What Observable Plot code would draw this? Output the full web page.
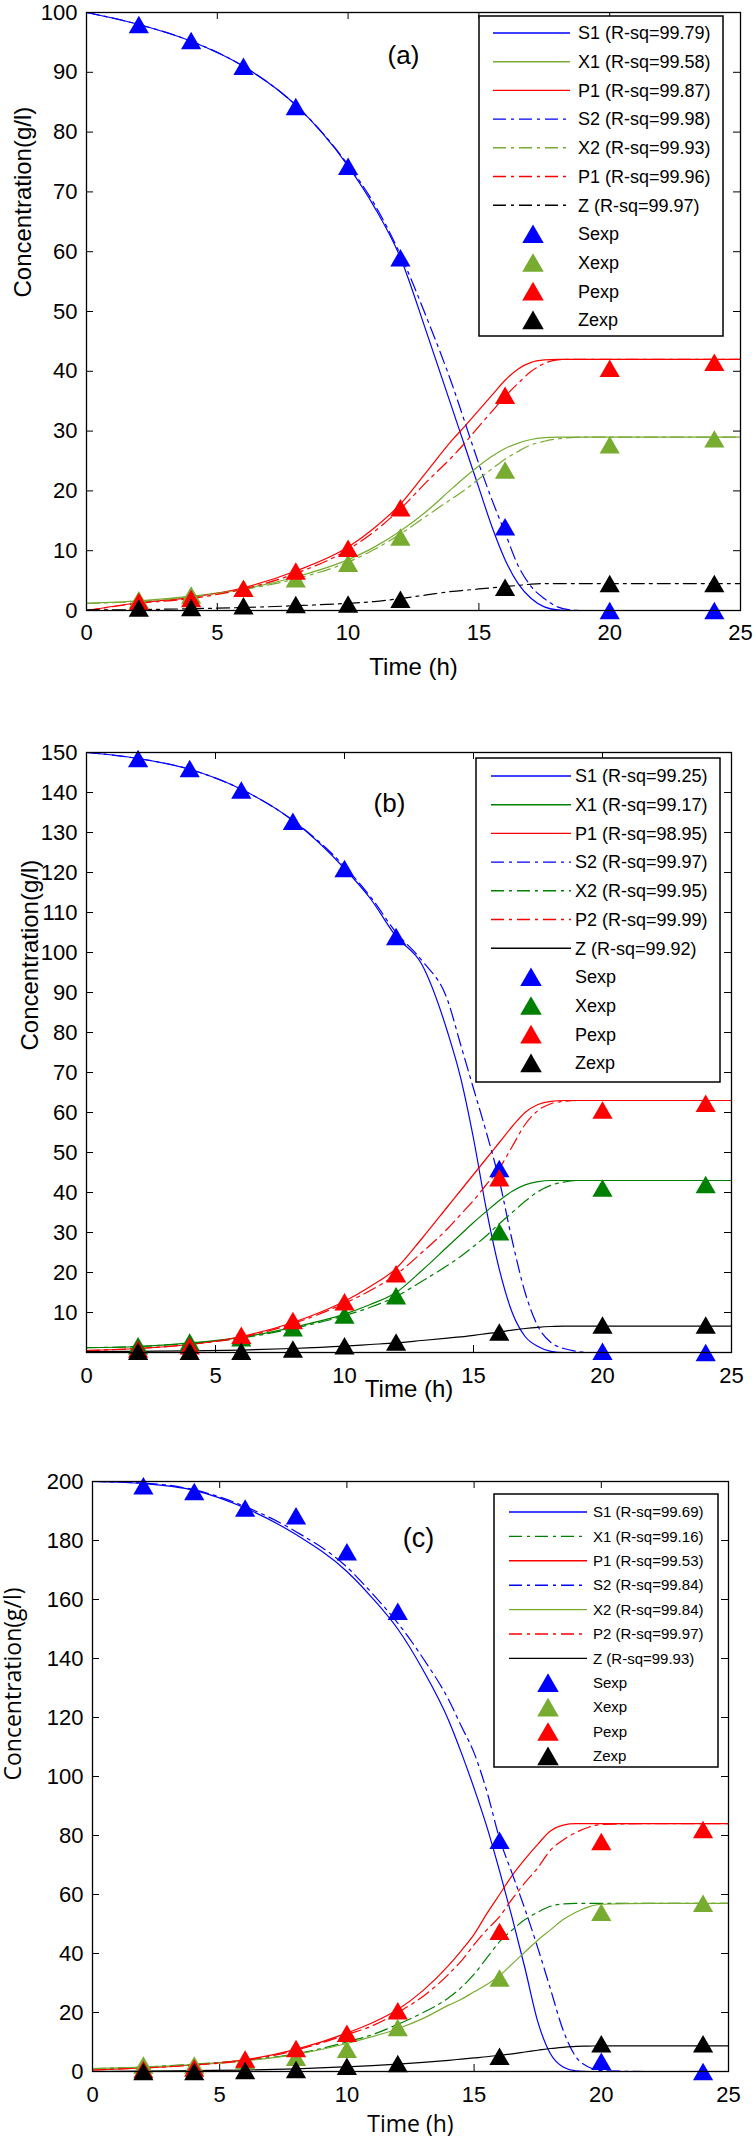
<!DOCTYPE html>
<html>
<head>
<meta charset="utf-8">
<script src="https://cdn.jsdelivr.net/npm/d3@7"></script>
<script src="https://cdn.jsdelivr.net/npm/@observablehq/plot@0.6"></script>
<style>
  body { margin: 0; background: #fff; }
  .panel { position: relative; width: 753px; }
  .panel svg { display: block; }
</style>
</head>
<body>
<div id="charts"></div>
<script>
// time grid shared by the model curves, and the sampling times
const tGrid = [0, 2, 4, 6, 8, 10, 11, 12, 13, 14, 14.5, 15, 15.5, 16, 16.5, 17, 17.5, 18, 18.5, 19, 19.5, 20, 22, 25];
const tExp = [2, 4, 6, 8, 10, 12, 16, 20, 24];
const xTicks = [0, 5, 10, 15, 20, 25];

// panel (a)
const S1a = [100, 98, 95.2, 91, 84.5, 74.3, 67.5, 59, 46.5, 33.5, 27, 20.5, 14, 8.5, 4.5, 2, 0.6, 0.1, 0, 0, 0, 0, 0, 0];
const X1a = [1.2, 1.6, 2.4, 3.6, 5.6, 8.5, 10.6, 13.3, 16.6, 20.5, 22.4, 24.2, 25.8, 27.1, 28, 28.6, 28.9, 29, 29, 29, 29, 29, 29, 29];
const P1a = [0, 1.3, 2.2, 3.8, 6.6, 10.6, 13.8, 17.8, 23.2, 28.6, 31, 33.5, 36, 38.5, 40.4, 41.5, 41.9, 42, 42, 42, 42, 42, 42, 42];
const S2a = [100, 98, 95.2, 91, 84.5, 74.5, 68, 59.5, 49, 37.5, 31, 24.5, 18.5, 13, 7.5, 4, 2, 0.6, 0.1, 0, 0, 0, 0, 0];
const X2a = [1.2, 1.5, 2.3, 3.5, 5.3, 8.1, 10.2, 12.8, 15.8, 18.8, 20.3, 22, 23.7, 25.3, 26.6, 27.7, 28.3, 28.7, 28.9, 29, 29, 29, 29, 29];
const P2a = [0, 1.2, 2, 3.6, 6.2, 10.2, 13.2, 17, 21.5, 25.8, 28.2, 30.8, 33.3, 35.8, 38, 40, 41.3, 41.9, 42, 42, 42, 42, 42, 42];
const Za = [0.1, 0.15, 0.3, 0.5, 0.8, 1.2, 1.5, 2, 2.6, 3.2, 3.4, 3.6, 3.8, 4, 4.2, 4.4, 4.5, 4.5, 4.5, 4.5, 4.5, 4.5, 4.5, 4.5];
const SexpA = [98, 95.3, 91, 84.3, 74.3, 59, 14, 0, 0];
const XexpA = [1.8, 2.6, 3.7, 5.3, 7.9, 12.3, 23.5, 27.7, 28.7];
const PexpA = [1.5, 2, 3.7, 6.6, 10.4, 17.2, 36, 40.5, 41.5];
const ZexpA = [0.4, 0.5, 0.8, 1, 1.1, 1.9, 3.9, 4.5, 4.5];
const rsqA = ["S1 (R-sq=99.79)", "X1 (R-sq=99.58)", "P1 (R-sq=99.87)", "S2 (R-sq=99.98)", "X2 (R-sq=99.93)", "P1 (R-sq=99.96)", "Z (R-sq=99.97)"];

// panel (b)
const S1b = [150, 148.5, 145.8, 140.8, 133, 121, 113.5, 104, 97, 80, 68.7, 53.5, 35.7, 20.8, 10, 4, 1.5, 0.3, 0, 0, 0, 0, 0, 0];
const X1b = [1.2, 1.5, 2.4, 3.8, 6.3, 9.6, 12, 15, 20.5, 26.5, 29.5, 32.5, 35.3, 38, 40.3, 41.9, 42.7, 43, 43, 43, 43, 43, 43, 43];
const P1b = [0.5, 1, 2, 4, 7.5, 12.8, 16.5, 21, 28.5, 36.5, 40.5, 44.5, 48.5, 52.5, 56.5, 60, 62, 62.8, 63, 63, 63, 63, 63, 63];
const S2b = [150, 148.5, 145.8, 140.8, 133, 121.5, 114, 105, 98, 88, 77, 66, 55, 43, 28, 15, 6.5, 2.5, 1, 0.3, 0, 0, 0, 0];
const X2b = [1.2, 1.5, 2.3, 3.6, 6, 9.2, 11.3, 14, 17.8, 21.8, 24, 26.5, 29.2, 32.2, 35, 37.8, 40.2, 41.8, 42.6, 43, 43, 43, 43, 43];
const P2b = [0.5, 1, 2, 3.8, 7.2, 12.3, 15.5, 19.5, 25, 31, 34.5, 38, 42, 46, 51.5, 57, 60.5, 62.2, 62.8, 63, 63, 63, 63, 63];
const Zb = [0.2, 0.3, 0.4, 0.6, 1, 1.6, 2, 2.4, 3, 3.6, 3.9, 4.3, 4.7, 5.1, 5.6, 6, 6.3, 6.5, 6.6, 6.6, 6.6, 6.6, 6.6, 6.6];
const SexpB = [148.5, 146, 140.6, 132.8, 121, 104, 46, 0.3, 0];
const XexpB = [1.7, 2.6, 3.7, 6.2, 9.4, 14.2, 30.2, 41.1, 42];
const PexpB = [0.9, 1.7, 4.3, 8, 12.7, 19.7, 43.7, 60.6, 62.3];
const ZexpB = [0.3, 0.3, 0.3, 0.9, 1.7, 2.6, 5.1, 6.9, 6.9];
const rsqB = ["S1 (R-sq=99.25)", "X1 (R-sq=99.17)", "P1 (R-sq=98.95)", "S2 (R-sq=99.97)", "X2 (R-sq=99.95)", "P2 (R-sq=99.99)", "Z (R-sq=99.92)"];

// panel (c)
const S1c = [200, 199.3, 197, 191, 182, 169.5, 160.5, 150, 136, 119, 108, 96, 83, 68, 52, 35, 17, 6, 1.5, 0.2, 0, 0, 0, 0];
const X1c = [1, 1.5, 2.5, 3.8, 6, 10, 12.5, 16, 20, 25, 28.5, 33, 38.5, 44, 48, 51.5, 54, 56, 56.8, 57, 57, 57, 57, 57];
const P1c = [0.5, 1.2, 2.2, 4, 7.5, 13, 16.5, 21, 27.5, 36, 41, 46.5, 53.5, 60, 66.5, 72, 77, 81.5, 83.5, 84, 84, 84, 84, 84];
const S2c = [200, 199.5, 197.2, 191.5, 183, 171, 162, 152, 140, 126, 117, 108, 95, 79, 67, 55, 42, 28, 14, 5, 1.5, 0.3, 0, 0];
const X2c = [1, 1.5, 2.3, 3.6, 5.8, 9.5, 11.8, 14.5, 18, 22.5, 24.5, 27, 29.5, 32.5, 36.5, 40.5, 44.5, 48, 51.5, 54, 55.8, 56.7, 57, 57];
const P2c = [0.5, 1.2, 2.2, 3.8, 7.2, 12.5, 15.5, 20, 25.5, 33, 37.5, 43, 48, 52.5, 58.5, 64, 69, 75, 78.5, 81, 82.8, 83.7, 84, 84];
const Zc = [0, 0.1, 0.3, 0.5, 0.9, 1.6, 2, 2.5, 3.1, 3.8, 4.2, 4.6, 5, 5.5, 6, 6.6, 7.2, 7.8, 8.2, 8.5, 8.6, 8.7, 8.7, 8.7];
const SexpC = [198.6, 196.6, 191, 188.4, 176.2, 156, 78.4, 3.5, 0];
const XexpC = [2.2, 2.2, 3.7, 4.8, 7.5, 14.9, 31.7, 54, 57];
const PexpC = [0.7, 1.2, 4.2, 7.8, 13, 20.6, 47.5, 78, 82];
const ZexpC = [0, 0, 0.3, 0.7, 1.8, 2.7, 5.2, 9.4, 9.4];
const rsqC = ["S1 (R-sq=99.69)", "X1 (R-sq=99.16)", "P1 (R-sq=99.53)", "S2 (R-sq=99.84)", "X2 (R-sq=99.84)", "P2 (R-sq=99.97)", "Z (R-sq=99.93)"];

const expNames = ["Sexp", "Xexp", "Pexp", "Zexp"];

const blue = "#0000ff", red = "#ff0000", black = "#000000";
const lightGreen = "#77ac30", darkGreen = "#008000";
const dashDot = "13,5,3,5";
const sans = "'Liberation Sans', Arial, sans-serif";

const panels = [
  {
    tag: "(a)", height: 700, mt: 12, mb: 90, ml: 86, mr: 13,
    yDomain: [0, 100], yTicks: d3.range(0, 101, 10),
    xPad: 14, tagAt: [317, 43], timeDy: 57, yLabelDx: -63, yLabelDy: -14,
    titleFont: sans, titleSize: 24, tagSize: 26,
    curves: [
      {v: S1a, c: blue}, {v: X1a, c: lightGreen}, {v: P1a, c: red},
      {v: S2a, c: blue, d: dashDot}, {v: X2a, c: lightGreen, d: dashDot},
      {v: P2a, c: red, d: dashDot}, {v: Za, c: black, d: dashDot}
    ],
    exps: [{v: SexpA, c: blue}, {v: XexpA, c: lightGreen}, {v: PexpA, c: red}, {v: ZexpA, c: black}],
    names: rsqA,
    legend: {x0: 479, x1: 723, y0: 16, y1: 336, row0: 33, step: 28.7, l0: 493, l1: 570, tx: 578, mx: 533, size: 18}
  },
  {
    tag: "(b)", height: 720, mt: 52, mb: 68, ml: 86, mr: 22,
    yDomain: [0, 150], yTicks: d3.range(10, 151, 10),
    xPad: 15, tagAt: [303, 51], timeDy: 37, yLabelDx: -56, yLabelDy: -2,
    titleFont: sans, titleSize: 24, tagSize: 26,
    curves: [
      {v: S1b, c: blue}, {v: X1b, c: darkGreen}, {v: P1b, c: red},
      {v: S2b, c: blue, d: dashDot}, {v: X2b, c: darkGreen, d: dashDot},
      {v: P2b, c: red, d: dashDot}, {v: Zb, c: black}
    ],
    exps: [{v: SexpB, c: blue}, {v: XexpB, c: darkGreen}, {v: PexpB, c: red}, {v: ZexpB, c: black}],
    names: rsqB,
    legend: {x0: 476, x1: 720, y0: 58, y1: 382, row0: 76, step: 28.7, l0: 491, l1: 571, tx: 575, mx: 531, size: 18}
  },
  {
    tag: "(c)", height: 730, mt: 61, mb: 79, ml: 92, mr: 25,
    yDomain: [0, 200], yTicks: d3.range(0, 201, 20),
    xPad: 15, tagAt: [326, 57], timeDy: 53, yLabelDx: -79, yLabelDy: 4,
    titleFont: "'Open Sans', sans-serif", titleSize: 23, tagSize: 27,
    curves: [
      {v: S1c, c: blue}, {v: X1c, c: darkGreen, d: dashDot}, {v: P1c, c: red},
      {v: S2c, c: blue, d: dashDot}, {v: X2c, c: lightGreen},
      {v: P2c, c: red, d: dashDot}, {v: Zc, c: black}
    ],
    exps: [{v: SexpC, c: blue}, {v: XexpC, c: lightGreen}, {v: PexpC, c: red}, {v: ZexpC, c: black}],
    names: rsqC,
    legend: {x0: 494, x1: 718, y0: 74, y1: 347, row0: 92, step: 24.4, l0: 509, l1: 587, tx: 593, mx: 548, size: 15}
  }
];

const markerR = 7.5;
// shift so the triangle's box, not its centroid, sits on the value
const markerDy = Math.sqrt(4 * Math.PI * markerR * markerR / Math.sqrt(3)) * Math.sqrt(3) / 2 / 6;

function drawPanel(p) {
  const plotH = p.height - p.mt - p.mb;
  const plotW = 753 - p.ml - p.mr;
  const chart = Plot.plot({
    width: 753,
    height: p.height,
    marginTop: p.mt,
    marginBottom: p.mb,
    marginLeft: p.ml,
    marginRight: p.mr,
    style: {fontFamily: sans, color: "black", background: "white", overflow: "visible"},
    x: {domain: [0, 25]},
    y: {domain: p.yDomain},
    marks: [
      Plot.axisX(xTicks, {tickSize: 0, tickPadding: p.xPad, fontSize: 22, label: null}),
      Plot.axisY(p.yTicks, {tickSize: 0, tickPadding: 9, fontSize: 22, label: null}),
      // inward ticks on all four sides
      Plot.tickX(xTicks, {x: d => d, insetTop: plotH - 7, stroke: "black"}),
      Plot.tickX(xTicks, {x: d => d, insetBottom: plotH - 7, stroke: "black"}),
      Plot.tickY(p.yTicks, {y: d => d, insetRight: plotW - 7, stroke: "black"}),
      Plot.tickY(p.yTicks, {y: d => d, insetLeft: plotW - 7, stroke: "black"}),
      ...p.curves.map(c => Plot.line(c.v, {
        x: (d, i) => tGrid[i], y: d => d,
        stroke: c.c, strokeWidth: 1.2, strokeDasharray: c.d, curve: "monotone-x"
      })),
      ...p.exps.map(e => Plot.dot(e.v, {
        x: (d, i) => tExp[i], y: d => d,
        symbol: "triangle", r: markerR, fill: e.c, dy: markerDy
      })),
      Plot.frame({stroke: "black", strokeWidth: 1.3}),
      Plot.text([p.tag], {frameAnchor: "top-left", dx: p.tagAt[0], dy: p.tagAt[1],
        textAnchor: "middle", lineAnchor: "middle", fontSize: p.tagSize, fill: "black"}),
      Plot.text(["Time (h)"], {frameAnchor: "bottom", dy: p.timeDy, lineAnchor: "middle",
        fontSize: p.titleSize, fontFamily: p.titleFont, fill: "black"}),
      Plot.text(["Concentration(g/l)"], {frameAnchor: "left", dx: p.yLabelDx, dy: p.yLabelDy,
        rotate: -90, lineAnchor: "middle", fontSize: p.titleSize, fontFamily: p.titleFont, fill: "black"})
    ]
  });

  const div = document.createElement("div");
  div.className = "panel";
  div.style.height = p.height + "px";
  div.append(chart);
  document.getElementById("charts").append(div);

  // legend overlay
  const L = p.legend;
  const svg = d3.select(div).append("svg")
    .attr("width", 753).attr("height", p.height)
    .style("position", "absolute").style("left", 0).style("top", 0);
  svg.append("rect")
    .attr("x", L.x0).attr("y", L.y0)
    .attr("width", L.x1 - L.x0).attr("height", L.y1 - L.y0)
    .attr("fill", "white").attr("stroke", "black").attr("stroke-width", 1.5);

  const items = p.curves.map((c, i) => ({name: p.names[i], line: c}))
    .concat(p.exps.map((e, i) => ({name: expNames[i], marker: e})));
  const tri = d3.symbol(d3.symbolTriangle, Math.PI * 8 * 8)();
  items.forEach((it, i) => {
    const y = L.row0 + i * L.step;
    if (it.line) {
      svg.append("line")
        .attr("x1", L.l0).attr("x2", L.l1).attr("y1", y).attr("y2", y)
        .attr("stroke", it.line.c).attr("stroke-width", 1.4)
        .attr("stroke-dasharray", it.line.d || null);
    } else {
      svg.append("path").attr("d", tri)
        .attr("transform", `translate(${L.mx},${y + 3})`)
        .attr("fill", it.marker.c);
    }
    svg.append("text")
      .attr("x", L.tx).attr("y", y).attr("dy", "0.35em")
      .attr("font-family", sans).attr("font-size", L.size)
      .text(it.name);
  });
}

panels.forEach(drawPanel);
</script>
</body>
</html>
